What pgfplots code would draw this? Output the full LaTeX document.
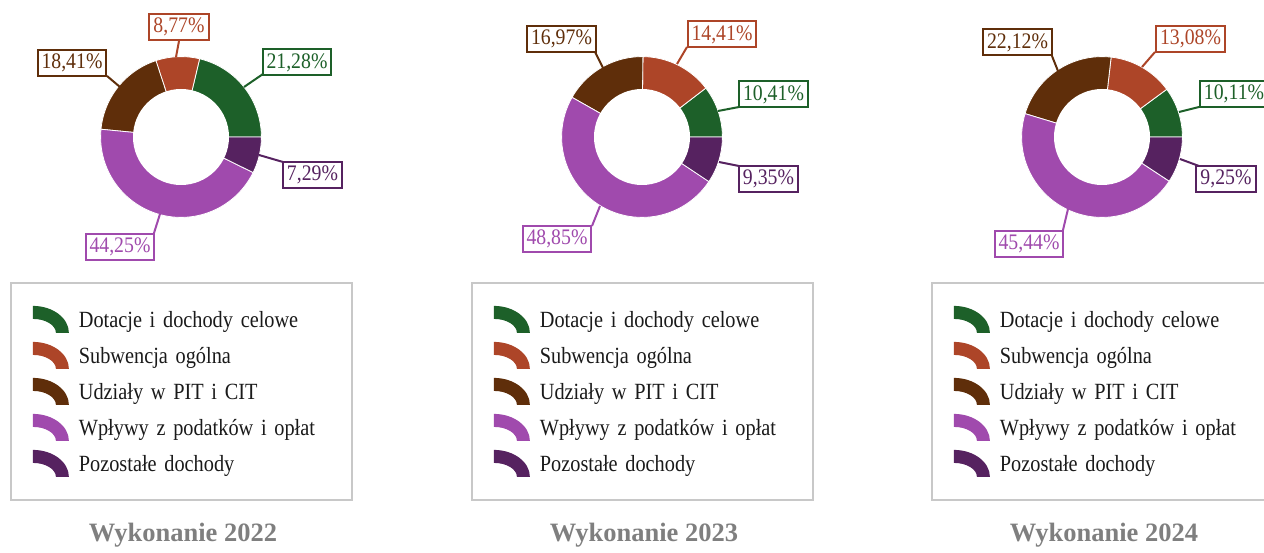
\documentclass[border=0pt]{standalone}
\usepackage{fontspec}
\setmainfont{Liberation Serif}
\newfontfamily\condfont{Liberation Serif}[FakeStretch=0.89]
\newfontfamily\legfont{Liberation Serif}[FakeStretch=0.875]
\usepackage{pgfplots}
\pgfplotsset{compat=1.18}

\definecolor{cA}{HTML}{1D6029}
\definecolor{cB}{HTML}{AD4528}
\definecolor{cC}{HTML}{5F2E0A}
\definecolor{cD}{HTML}{A04AAD}
\definecolor{cE}{HTML}{562260}
\definecolor{boxgray}{HTML}{C8C8C8}
\definecolor{titlegray}{HTML}{7F7F7F}
\definecolor{txt}{HTML}{1A1A1A}

\pgfplotsset{
 donut/.style={
  x=1pt, y=1pt, xmin=-200, xmax=200, ymin=-200, ymax=200,
  hide axis, clip=false, anchor=center,
  legend image code/.code={\path[##1,draw=none] (0pt,14pt) arc[start angle=90,end angle=0,x radius=36pt,y radius=27pt] -- (23pt,-13pt) arc[start angle=0,end angle=90,x radius=23pt,y radius=14pt] -- cycle;},
  legend style={at={(0.0725,0.1375)}, anchor=north west, draw=boxgray, line width=1.8pt,
    inner xsep=22pt, inner ysep=23pt, row sep=9pt, column sep=8pt,
    font=\legfont\fontsize{23.2}{27}\selectfont, text=txt,
    nodes={text width=249pt, inner sep=2pt, align=left}},
  legend cell align=left,
 },
}
\tikzset{
 lbl/.style={draw=#1, text=#1, fill=white, line width=2pt, inner xsep=4pt, inner ysep=0pt,
   minimum height=26pt, font=\condfont\fontsize{22.2}{26}\selectfont},
 ttl/.style={font=\bfseries\fontsize{26.5}{30}\selectfont, text=titlegray},
}

\newcommand\slice[3]{\addplot[fill=#3, draw=white, line width=0.8pt, domain=#1:#2, samples=60, variable=\t] ({80.4*cos(\t)},{80.4*sin(\t)}) -- (axis cs:0,0) -- cycle;}

\newcommand\donut[5]{%
 \pgfmathsetmacro\aB{#1*3.6}%
 \pgfmathsetmacro\aC{(#1+#2)*3.6}%
 \pgfmathsetmacro\aD{(#1+#2+#3)*3.6}%
 \pgfmathsetmacro\aE{(#1+#2+#3+#4)*3.6}%
 \slice{0}{\aB}{cA}
 \slice{\aB}{\aC}{cB}
 \slice{\aC}{\aD}{cC}
 \slice{\aD}{\aE}{cD}
 \slice{\aE}{360}{cE}
 \fill[white] (axis cs:0,0) circle[radius=48pt];
 \legend{Dotacje i dochody celowe, Subwencja ogólna, Udziały w PIT i CIT, Wpływy z podatków i opłat, Pozostałe dochody}
}

\begin{document}
\begin{tikzpicture}
\path[use as bounding box] (0pt,0pt) rectangle (1264pt,552pt);

% ---------------- 2022
\begin{axis}[donut, at={(181pt,415pt)}]
 \donut{21.28}{8.77}{18.41}{44.25}{7.29}
 \draw[cB, line width=2pt] (axis cs:-5,80) -- (axis cs:-2,96);
 \draw[cA, line width=2pt] (axis cs:63,50) -- (axis cs:82,63);
 \draw[cC, line width=2pt] (axis cs:-61,50) -- (axis cs:-74,61);
 \draw[cE, line width=2pt] (axis cs:78,-18) -- (axis cs:102,-25);
 \draw[cD, line width=2pt] (axis cs:-21,-77) -- (axis cs:-27,-96);
 \node[lbl=cB] at (axis cs:-2,110) {8,77\%};
 \node[lbl=cA] at (axis cs:116,74.5) {21,28\%};
 \node[lbl=cC] at (axis cs:-109,74) {18,41\%};
 \node[lbl=cE] at (axis cs:131.5,-38) {7,29\%};
 \node[lbl=cD] at (axis cs:-61,-109.5) {44,25\%};
 \node[ttl] at (axis cs:2,-398) {Wykonanie 2022};
\end{axis}

% ---------------- 2023
\begin{axis}[donut, at={(642pt,415pt)}]
 \donut{10.41}{14.41}{16.97}{48.85}{9.35}
 \draw[cC, line width=2pt] (axis cs:-39,69) -- (axis cs:-47,85);
 \draw[cB, line width=2pt] (axis cs:35,73) -- (axis cs:45,90);
 \draw[cA, line width=2pt] (axis cs:76,26) -- (axis cs:97,30);
 \draw[cE, line width=2pt] (axis cs:77,-25) -- (axis cs:97,-29);
 \draw[cD, line width=2pt] (axis cs:-42,-69) -- (axis cs:-50,-89);
 \node[lbl=cC] at (axis cs:-80.5,98) {16,97\%};
 \node[lbl=cB] at (axis cs:80,102.5) {14,41\%};
 \node[lbl=cA] at (axis cs:131.5,42.5) {10,41\%};
 \node[lbl=cE] at (axis cs:126.5,-42) {9,35\%};
 \node[lbl=cD] at (axis cs:-85,-101.5) {48,85\%};
 \node[ttl] at (axis cs:2,-398) {Wykonanie 2023};
\end{axis}

% ---------------- 2024
\begin{axis}[donut, at={(1102pt,415pt)}]
 \donut{10.11}{13.08}{22.12}{45.44}{9.25}
 \draw[cC, line width=2pt] (axis cs:-44,66) -- (axis cs:-50,81);
 \draw[cB, line width=2pt] (axis cs:40,70) -- (axis cs:53,85);
 \draw[cA, line width=2pt] (axis cs:77,25) -- (axis cs:97,30);
 \draw[cE, line width=2pt] (axis cs:78,-22) -- (axis cs:97,-29);
 \draw[cD, line width=2pt] (axis cs:-34,-72) -- (axis cs:-39,-93);
 \node[lbl=cC] at (axis cs:-84.5,94.5) {22,12\%};
 \node[lbl=cB] at (axis cs:88.5,98) {13,08\%};
 \node[lbl=cA] at (axis cs:132,43) {10,11\%};
 \node[lbl=cE] at (axis cs:124,-42) {9,25\%};
 \node[lbl=cD] at (axis cs:-73,-106.5) {45,44\%};
 \node[ttl] at (axis cs:2,-398) {Wykonanie 2024};
\end{axis}
\end{tikzpicture}
\end{document}
